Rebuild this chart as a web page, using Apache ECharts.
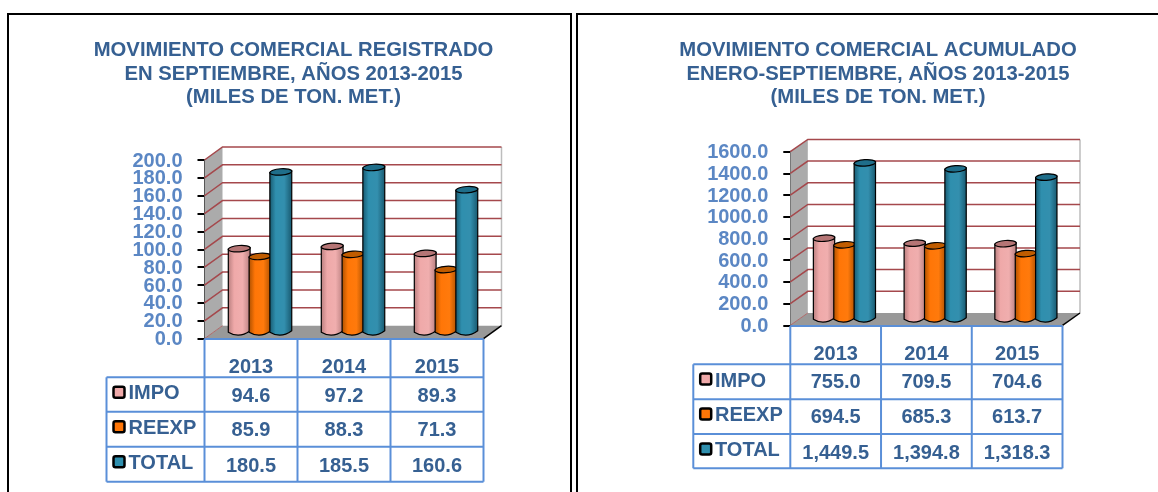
<!DOCTYPE html>
<html><head><meta charset="utf-8">
<style>html,body{margin:0;padding:0;background:#fff}#c{width:1158px;height:492px}</style>
<script src="https://cdn.jsdelivr.net/npm/echarts@6/dist/echarts.min.js"></script>
</head><body><div id="c"></div>
<script>
var years = ['2013','2014','2015'];
var seriesNames = ['IMPO','REEXP','TOTAL'];
var impoSept = [94.6,97.2,89.3];
var reexpSept = [85.9,88.3,71.3];
var totalSept = [180.5,185.5,160.6];
var impoAcum = [755.0,709.5,704.6];
var reexpAcum = [694.5,685.3,613.7];
var totalAcum = [1449.5,1394.8,1318.3];
var ticksSept = [0,20,40,60,80,100,120,140,160,180,200];
var ticksAcum = [0,200,400,600,800,1000,1200,1400,1600];
var titleSept = 'MOVIMIENTO COMERCIAL REGISTRADO\nEN SEPTIEMBRE, AÑOS 2013-2015\n(MILES DE TON. MET.)';
var titleAcum = 'MOVIMIENTO COMERCIAL ACUMULADO\nENERO-SEPTIEMBRE, AÑOS 2013-2015\n(MILES DE TON. MET.)';

var FONT = '"Liberation Sans", Arial, sans-serif';
var TITLE_C = '#366092', AXIS_C = '#5B87C4', TBL = '#5A8FD8', GRID_C = '#A5484C';
var palette = [
  {edge:'#B57C7C', mid:'#EFA9A9', light:'#F0AEAE', top:'#B57575'},
  {edge:'#A84E00', mid:'#FF7607', light:'#FF7A0C', top:'#C05C00'},
  {edge:'#17566C', mid:'#2F8FAE', light:'#338FAE', top:'#1F6E8A'}
];
var layouts = [
  {left:204.5, top:160, width:279, height:178.7, dx:18, dy:-13, step:20.8, barW:22, vals:[impoSept,reexpSept,totalSept], ticks:ticksSept,
   tableLeft:106.5, tableTop:339, rows:[377.3,411.7,446.7,481.7], yearY:367, valY:[396,430.5,466], nameY:[393,428.5,463], textX:128.5, keyX:119, keyY:[392.3,426.7,461.7]},
  {left:790.3, top:151.7, width:272.2, height:173.6, dx:17.5, dy:-12.3, step:20.4, barW:21.5, vals:[impoAcum,reexpAcum,totalAcum], ticks:ticksAcum,
   tableLeft:693.3, tableTop:326, rows:[364.3,399.3,434,468.3], yearY:354, valY:[382.5,417.5,453], nameY:[381,415.5,450.5], textX:715, keyX:705.7, keyY:[379,414,449]}
];

function wallsRender(layout){
  return function(params, api){
    var cs = params.coordSys, ch = [];
    var L=cs.x, R=cs.x+cs.width, B=cs.y+cs.height, T=cs.y, dx=layout.dx, dy=layout.dy;
    ch.push({type:'polygon',shape:{points:[[L,B],[L+dx,B+dy],[L+dx,T+dy],[L,T]]},style:{fill:'#ABABAB'}});
    ch.push({type:'polygon',shape:{points:[[L,B],[R,B],[R+dx,B+dy],[L+dx,B+dy]]},style:{fill:'#999999'}});
    ch.push({type:'polyline',shape:{points:[[R+dx,B+dy],[R+dx,T+dy]]},style:{stroke:'#BDBDBD',lineWidth:1.5,fill:null}});
    layout.ticks.forEach(function(t){
      var y = api.coord([0,t])[1];
      if(t>0) ch.push({type:'polyline',shape:{points:[[L,y],[L+dx,y+dy],[R+dx,y+dy]]},style:{stroke:GRID_C,lineWidth:1.5,fill:null}});
      else ch.push({type:'line',shape:{x1:L,y1:y,x2:L+dx,y2:y+dy},style:{stroke:'#B06A6A',lineWidth:1}});
      ch.push({type:'text',x:L-22,y:y+1,style:{text:t.toFixed(1),fill:AXIS_C,font:'bold 20px '+FONT,textAlign:'right',textVerticalAlign:'middle'}});
    });
    ch.push({type:'line',shape:{x1:R,y1:B,x2:R+dx,y2:B+dy},style:{stroke:'#000',lineWidth:1.5}});
    return {type:'group',children:ch};
  };
}
function cylRender(layout, k){
  var c = palette[k];
  return function(params, api){
    var i = api.value(0), v = api.value(1);
    var top = api.coord([i,v]), base = api.coord([i,0]);
    var cx = top[0]+layout.dx/2+(k-1)*layout.step, w=layout.barW, ry=3.2, rot=0.07;
    var yt = top[1]+layout.dy/2+1, yb = base[1]+layout.dy/2+1, x0=cx-w/2, x1=cx+w/2;
    var grad = new echarts.graphic.LinearGradient(0,0,1,0,[
      {offset:0,color:c.edge},{offset:0.28,color:c.mid},{offset:0.65,color:c.light},{offset:1,color:c.edge}]);
    var path = 'M'+x0+' '+(yt+0.8)+' L'+x0+' '+yb+
      ' Q'+cx+' '+(yb+ry*2.1)+' '+x1+' '+(yb-1.5)+' L'+x1+' '+(yt-0.8)+' Z';
    return {type:'group',children:[
      {type:'path',shape:{pathData:path,layout:'center',x:x0,y:yt-1,width:w,height:yb-yt+3},
       style:{fill:grad,stroke:'#000',lineWidth:1.2}},
      {type:'ellipse',x:cx,y:yt,rotation:rot,shape:{cx:0,cy:0,rx:w/2,ry:ry},style:{fill:c.top,stroke:'#000',lineWidth:1.2}}
    ]};
  };
}
function fmt(v){return v.toLocaleString('en-US',{minimumFractionDigits:1,maximumFractionDigits:1});}

var gridList=[],xAxes=[],yAxes=[],seriesList=[],gfx=[];
gfx.push({type:'rect',shape:{x:8,y:14,width:563,height:490},style:{fill:null,stroke:'#000',lineWidth:2},z:0});
gfx.push({type:'rect',shape:{x:577,y:14,width:600,height:490},style:{fill:null,stroke:'#000',lineWidth:2},z:0});

layouts.forEach(function(l,g){
  gridList.push({left:l.left,top:l.top,width:l.width,height:l.height,containLabel:false});
  xAxes.push({type:'category',gridIndex:g,data:years,show:false});
  yAxes.push({type:'value',gridIndex:g,min:0,max:l.ticks[l.ticks.length-1],interval:l.ticks[1]-l.ticks[0],
    axisLine:{show:true,lineStyle:{color:'#000',width:2}},
    axisTick:{show:true,length:7,lineStyle:{color:'#000',width:2}},
    splitLine:{show:false},
    axisLabel:{show:false}
  });
  seriesList.push({type:'custom',xAxisIndex:g,yAxisIndex:g,data:[[0,0]],renderItem:wallsRender(l),silent:true,z:1,animation:false});
  l.vals.forEach(function(arr,k){
    seriesList.push({type:'custom',name:seriesNames[k],xAxisIndex:g,yAxisIndex:g,z:3+k,animation:false,silent:true,
      data:arr.map(function(v,i){return [i,v];}),renderItem:cylRender(l,k)});
  });
  // data table
  var colX=[l.left,l.left+l.width/3,l.left+2*l.width/3,l.left+l.width];
  var bottom=l.rows[3];
  var line=function(x1,y1,x2,y2){gfx.push({type:'line',shape:{x1:x1,y1:y1,x2:x2,y2:y2},style:{stroke:TBL,lineWidth:2},z:10});};
  colX.forEach(function(x){line(x,l.tableTop,x,bottom);});
  line(l.left,l.tableTop,colX[3],l.tableTop);
  l.rows.forEach(function(y){line(l.tableLeft,y,colX[3],y);});
  line(l.tableLeft,l.rows[0],l.tableLeft,bottom);
  var txt=function(s,x,y,align){gfx.push({type:'text',x:x,y:y,z:11,style:{text:s,fill:TITLE_C,font:'bold 20px '+FONT,textAlign:align,textVerticalAlign:'middle'}});};
  years.forEach(function(yr,i){txt(yr,(colX[i]+colX[i+1])/2,l.yearY,'center');});
  seriesNames.forEach(function(n,k){
    txt(n,l.textX,l.nameY[k],'left');
    gfx.push({type:'rect',shape:{x:l.keyX-5.5,y:l.keyY[k]-5.5,width:11,height:11,r:2},style:{fill:palette[k].mid,stroke:'#000',lineWidth:2.5},z:11});
    l.vals[k].forEach(function(v,i){txt(fmt(v),(colX[i]+colX[i+1])/2,l.valY[k],'center');});
  });
});

var chart=echarts.init(document.getElementById('c'),null,{renderer:'canvas'});
chart.setOption({
  animation:false,backgroundColor:'#fff',
  title:[
    {text:titleSept,left:293.5,top:39,padding:0,textAlign:'center',textStyle:{color:TITLE_C,fontFamily:FONT,fontWeight:'bold',fontSize:20.3,lineHeight:23.5}},
    {text:titleAcum,left:878,top:39,padding:0,textAlign:'center',textStyle:{color:TITLE_C,fontFamily:FONT,fontWeight:'bold',fontSize:20.3,lineHeight:23.5}}
  ],
  grid:gridList,xAxis:xAxes,yAxis:yAxes,series:seriesList,graphic:{elements:gfx}
});
</script></body></html>
